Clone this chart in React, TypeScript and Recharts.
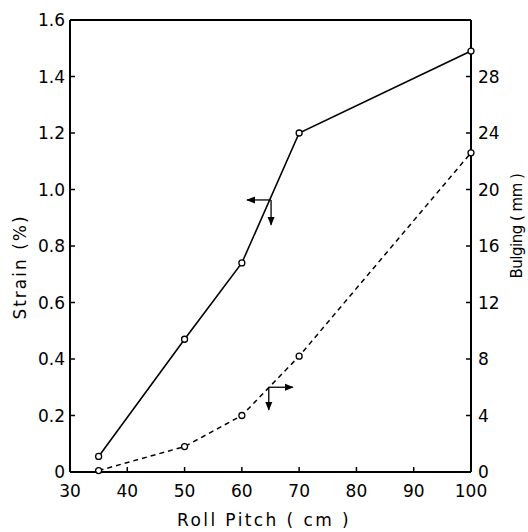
import React from 'react';
import { LineChart, Line, XAxis, YAxis, ReferenceLine } from 'recharts';

const pitch = [35, 50, 60, 70, 100];
const strain = [0.055, 0.47, 0.74, 1.2, 1.49];
const bulging = [0.1, 1.8, 4.0, 8.2, 22.6];

const pitchTicks = [30, 40, 50, 60, 70, 80, 90, 100];
const strainTicks = [0, 0.2, 0.4, 0.6, 0.8, 1.0, 1.2, 1.4, 1.6];
const bulgingTicks = [0, 4, 8, 12, 16, 20, 24, 28];

const data = pitch.map((p, i) => ({ pitch: p, strain: strain[i], bulging: bulging[i] }));

const FONT = '"DejaVu Sans", sans-serif';
const tickStyle = { fill: '#000', fontSize: 17, fontFamily: FONT };

const fmtStrain = (v: number) => (v === 0 ? '0' : v.toFixed(1));

const Dot = (props: any) => {
    const { cx, cy } = props;
    if (cx == null || cy == null) return null;
    return <circle cx={cx} cy={cy} r={3} fill="#fff" stroke="#000" strokeWidth={1.3} />;
};

// axis titles placed at fixed spots to match the scan
const AxisTitle = (text: string, x: number, y: number, rotate: boolean, size: number, spacing: number) =>
    () => (
        <text
            x={x}
            y={y}
            textAnchor="middle"
            dominantBaseline="central"
            transform={rotate ? `rotate(-90 ${x} ${y})` : undefined}
            style={{ fontSize: size, fontFamily: FONT, letterSpacing: spacing, fill: '#000' }}
        >
            {text}
        </text>
    );

const App: React.FC = () => {
    return (
        <div style={{ position: 'absolute', left: 0, top: 0, width: 528, height: 532, background: '#fff' }}>
            <svg width={0} height={0} style={{ position: 'absolute' }}>
                <defs>
                    <marker id="arrowHead" viewBox="0 0 10 10" refX="9" refY="5" markerWidth="7" markerHeight="7" orient="auto">
                        <path d="M0,1 L10,5 L0,9 z" fill="#000" />
                    </marker>
                </defs>
            </svg>
            <LineChart width={528} height={532} data={data} margin={{ top: 20, right: 0, left: 0, bottom: 0 }}>
                <XAxis
                    dataKey="pitch"
                    type="number"
                    domain={[30, 100]}
                    ticks={pitchTicks}
                    height={60}
                    tickSize={-5}
                    tickMargin={18}
                    tick={tickStyle}
                    axisLine={{ stroke: '#000', strokeWidth: 2 }}
                    tickLine={{ stroke: '#000', strokeWidth: 1.5 }}
                    label={{ content: AxisTitle('Roll  Pitch ( cm )', 264, 520, false, 17, 2.4) }}
                />
                <YAxis
                    yAxisId="left"
                    domain={[0, 1.6]}
                    ticks={strainTicks}
                    tickFormatter={fmtStrain}
                    width={70}
                    tickSize={-5}
                    tickMargin={10}
                    tick={tickStyle}
                    axisLine={{ stroke: '#000', strokeWidth: 2 }}
                    tickLine={{ stroke: '#000', strokeWidth: 1.5 }}
                    label={{ content: AxisTitle('Strain  (%)', 20, 267, true, 17, 2) }}
                />
                <YAxis
                    yAxisId="right"
                    orientation="right"
                    domain={[0, 32]}
                    ticks={bulgingTicks}
                    width={57}
                    tickSize={-5}
                    tickMargin={12}
                    tick={tickStyle}
                    axisLine={{ stroke: '#000', strokeWidth: 2 }}
                    tickLine={{ stroke: '#000', strokeWidth: 1.5 }}
                    label={{ content: AxisTitle('Bulging ( mm )', 517, 226, true, 15, -0.5) }}
                />
                <ReferenceLine yAxisId="left" y={1.6} stroke="#000" strokeWidth={2} />

                {/* axis indicator arrows */}
                <ReferenceLine yAxisId="left" segment={[{ x: 65.1, y: 0.963 }, { x: 60.9, y: 0.963 }]} stroke="#000" strokeWidth={1.3} markerEnd="url(#arrowHead)" />
                <ReferenceLine yAxisId="left" segment={[{ x: 65.1, y: 0.963 }, { x: 65.1, y: 0.875 }]} stroke="#000" strokeWidth={1.3} markerEnd="url(#arrowHead)" />
                <ReferenceLine yAxisId="right" segment={[{ x: 64.7, y: 6.0 }, { x: 68.9, y: 6.0 }]} stroke="#000" strokeWidth={1.3} markerEnd="url(#arrowHead)" />
                <ReferenceLine yAxisId="right" segment={[{ x: 64.7, y: 6.0 }, { x: 64.7, y: 4.4 }]} stroke="#000" strokeWidth={1.3} markerEnd="url(#arrowHead)" />

                <Line
                    yAxisId="left"
                    dataKey="strain"
                    type="linear"
                    stroke="#000"
                    strokeWidth={1.6}
                    dot={<Dot />}
                    activeDot={false}
                    isAnimationActive={false}
                />
                <Line
                    yAxisId="right"
                    dataKey="bulging"
                    type="linear"
                    stroke="#000"
                    strokeWidth={1.5}
                    strokeDasharray="5 4"
                    dot={<Dot />}
                    activeDot={false}
                    isAnimationActive={false}
                />
            </LineChart>
        </div>
    );
};

export default App;
